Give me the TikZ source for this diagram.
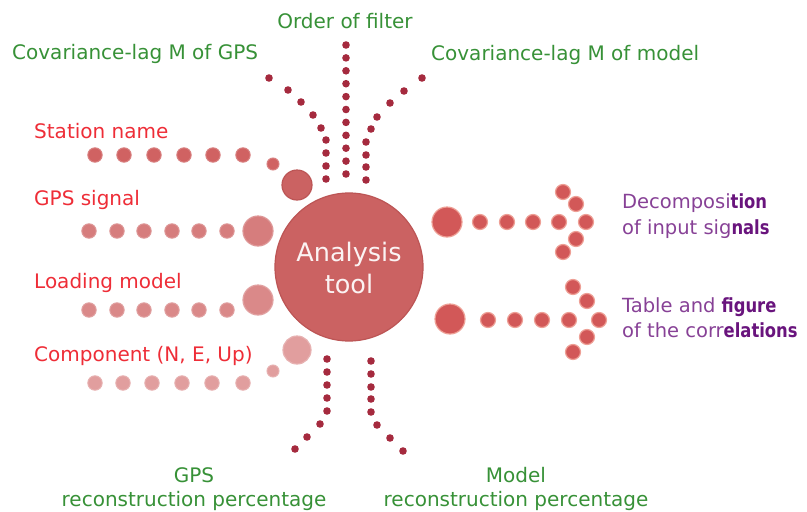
\documentclass[tikz,border=0pt]{standalone}
\usepackage{fontspec}
\setmainfont{DejaVu Sans}
\definecolor{cgreen}{RGB}{55,145,55}
\definecolor{cred}{RGB}{238,45,55}
\definecolor{cpurp}{RGB}{135,65,150}
\definecolor{cdpurp}{RGB}{105,20,125}
\definecolor{ccore}{RGB}{203,98,98}
\definecolor{ccoreb}{RGB}{188,85,85}
\definecolor{rowa}{RGB}{208,98,98}
\definecolor{rowb}{RGB}{214,125,125}
\definecolor{rowc}{RGB}{218,137,137}
\definecolor{rowd}{RGB}{225,158,158}
\definecolor{cdark}{RGB}{165,42,62}
\definecolor{carrow}{RGB}{210,88,88}
\definecolor{crim}{RGB}{238,160,150}
\newcommand{\bsuf}[1]{{\color{cdpurp}\bfseries\scalebox{0.84}[1]{#1}}}
\begin{document}
\begin{tikzpicture}[x=1pt,y=-1pt,
  lab/.style={font=\fontsize{20}{23}\selectfont, inner sep=0pt},
  redlab/.style={lab, text=cred, anchor=west},
  greenlab/.style={lab, text=cgreen},
  purplab/.style={lab, text=cpurp, anchor=west},
  dotA/.style={fill=rowa, draw=rowa!80!white, line width=1pt},
  dotB/.style={fill=rowb, draw=rowb!80!white, line width=1pt},
  dotC/.style={fill=rowc, draw=rowc!80!white, line width=1pt},
  dotD/.style={fill=rowd, draw=rowd!80!white, line width=1pt},
  darkdot/.style={fill=cdark},
  arrdot/.style={fill=carrow, draw=crim, line width=1.2pt},
  bigdot/.style={fill=ccore, draw=ccoreb, line width=1.2pt}
]
\useasboundingbox (0,0) rectangle (807,512);

% central circle
\node[circle, fill=ccore, draw=ccoreb, line width=1.2pt, minimum size=148pt, inner sep=0pt] (core) at (349,267) {};
\node[font=\fontsize{25.5}{32}\selectfont, text=white!92!ccore, align=center, inner sep=0pt] (coretxt) at (349,268) {Analysis\\tool};

% left labels
\node[redlab] (station) at (34,131) {Station name};
\node[redlab] (gpssig) at (34,200) {GPS signal};
\node[redlab] (loadm) at (34,283) {Loading model};
\node[redlab] (compo) at (34,356) {Component (N, E, Up)};

% top labels
\node[greenlab] (order) at (345,21) {Order of filter};
\node[greenlab, anchor=west] (covgps) at (12,54) {Covariance-lag M of GPS};
\node[greenlab, anchor=west] (covmod) at (431,55) {Covariance-lag M of model};

% bottom labels
\node[greenlab, align=center, font=\fontsize{20}{23.5}\selectfont] (gpsrec) at (194,489) {GPS\\reconstruction percentage};
\node[greenlab, align=center, font=\fontsize{20}{23.5}\selectfont] (modrec) at (516,489) {Model\\reconstruction percentage};

% right labels
\node[purplab, align=left, font=\fontsize{19.5}{25.5}\selectfont] (decomp) at (622,216) {Decomposi\bsuf{tion}\\of input sig\bsuf{nals}};
\node[purplab, align=left, font=\fontsize{19.5}{25}\selectfont] (table) at (622,318) {Table and \bsuf{figure}\\of the corr\bsuf{elations}};

% row dots
\foreach \x in {95,124,154,184,213,243} \draw[dotA] (\x,155) circle (7.2);
\draw[dotA] (273,164) circle (6);
\draw[bigdot] (297,185) circle (15);

\foreach \x in {89,117,144,172,199,227} \draw[dotB] (\x,231) circle (7.2);
\draw[dotB, line width=1.2pt] (258,231) circle (15);

\foreach \x in {89,117,144,172,199,227} \draw[dotC] (\x,310) circle (7.2);
\draw[dotC, line width=1.2pt] (258,300) circle (15);

\foreach \x in {95,123,152,182,212,243} \draw[dotD] (\x,383) circle (7.2);
\draw[dotD] (273,371) circle (6);
\draw[dotD, line width=1.2pt] (297,350) circle (14);

% dotted columns (top)
\foreach \i in {0,...,10} \fill[darkdot] (346,45+12.9*\i) circle (3.8);
\foreach \p in {(269,78),(288,90),(301,102),(313,115),(321,128),(326,140),(326,153),(326,166),(326,179)} \fill[darkdot] \p circle (3.8);
\foreach \p in {(422,78),(404,91),(390,103),(377,117),(371,129),(366,142),(366,155),(366,167),(366,180)} \fill[darkdot] \p circle (3.8);
% dotted columns (bottom)
\foreach \p in {(327,359),(327,372),(327,385),(327,398),(327,411),(320,424),(307,437),(295,449)} \fill[darkdot] \p circle (3.8);
\foreach \p in {(371,361),(371,374),(371,387),(371,399),(371,412),(377,425),(390,438),(403,451)} \fill[darkdot] \p circle (3.8);

% right arrows
\draw[arrdot] (447,222) circle (15);
\foreach \p in {(480,222),(507,222),(533,222),(559,222),(563,192),(576,204),(586,222),(576,239),(563,252)} \draw[arrdot] \p circle (7.5);
\draw[arrdot] (450,319) circle (15);
\foreach \p in {(488,320),(515,320),(542,320),(569,320),(573,287),(587,301),(599,320),(587,337),(573,352)} \draw[arrdot] \p circle (7.5);
\end{tikzpicture}
\end{document}
